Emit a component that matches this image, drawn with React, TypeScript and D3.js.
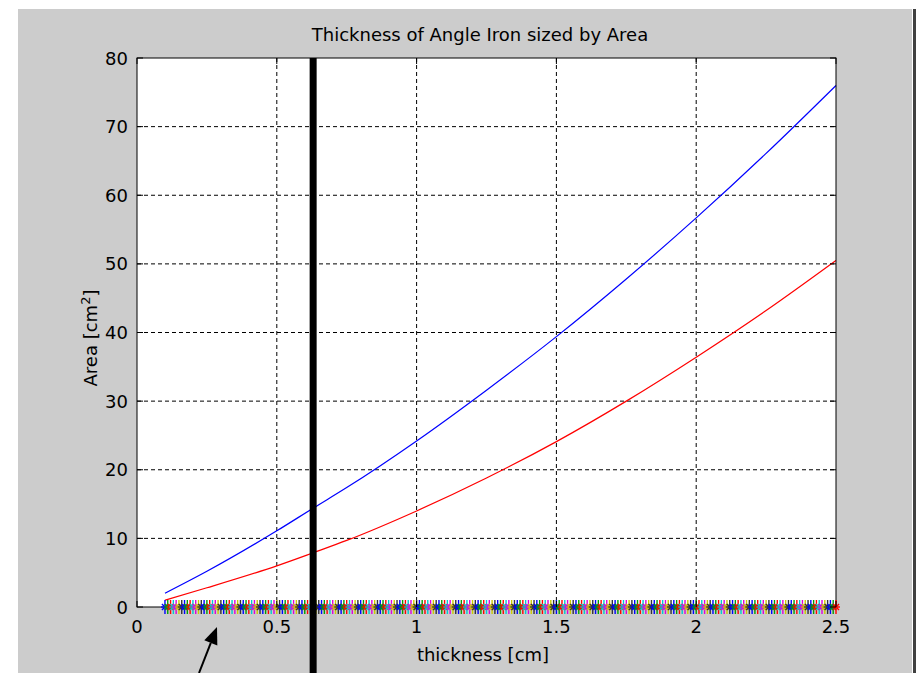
import React from "react";
import * as d3 from "d3";

const title = "Thickness of Angle Iron sized by Area";
const xLabel = "thickness [cm]";
const xTicks = [0, 0.5, 1, 1.5, 2, 2.5];
const yTicks = [0, 10, 20, 30, 40, 50, 60, 70, 80];

const curveThickness = [0.1, 0.25, 0.5, 0.63, 0.75, 1.0, 1.25, 1.5, 1.75, 2.0, 2.25, 2.5];
const blueArea = [2.0, 5.2, 11.1, 14.4, 17.4, 24.2, 31.6, 39.4, 47.8, 56.7, 66.1, 76.0];
const redArea = [1.0, 2.8, 6.0, 7.9, 9.7, 14.0, 18.8, 24.1, 30.0, 36.4, 43.2, 50.5];

// markers along zero: thickness grid 0.1..2.5 step 0.01, all at area 0
const markerThickness = d3.range(10, 251).map((v) => v / 100);
const markerArea = markerThickness.map(() => 0);
const markerColors = ["#0000ff", "#00a000", "#ff0000", "#00cccc", "#dd00dd", "#cccc00", "#333333"];

const selectedThickness = 0.63;

const W = 916;
const H = 673;
const plot = { left: 137, right: 836, top: 58, bottom: 607 };

export default function App() {
  const x = d3.scaleLinear().domain([0, 2.5]).range([plot.left, plot.right]);
  const y = d3.scaleLinear().domain([0, 80]).range([plot.bottom, plot.top]);

  const line = d3
    .line<number>()
    .x((_, i) => x(curveThickness[i]))
    .y((d) => y(d))
    .curve(d3.curveMonotoneX);

  const font = "'DejaVu Sans', Arial, sans-serif";
  const fs = 18;
  const tickLen = 6;
  const r = 4;

  const arrowTip = { x: 217, y: 627 };
  const arrowBase = { x: 199, y: 673 };
  const ang = Math.atan2(arrowTip.y - arrowBase.y, arrowTip.x - arrowBase.x);
  const hl = 17, hw = 7;
  const bx = arrowTip.x - hl * Math.cos(ang);
  const by = arrowTip.y - hl * Math.sin(ang);
  const px = -Math.sin(ang), py = Math.cos(ang);

  return (
    <svg
      width={W}
      height={H}
      style={{ position: "fixed", left: 0, top: 0, display: "block" }}
      fontFamily={font}
    >
      <rect x={0} y={0} width={W} height={H} fill="#ffffff" />
      <rect x={18} y={9} width={894} height={H - 9} fill="#cccccc" />
      <rect x={913} y={9} width={3} height={H - 9} fill="#404040" />

      <rect
        x={plot.left}
        y={plot.top}
        width={plot.right - plot.left}
        height={plot.bottom - plot.top}
        fill="#ffffff"
      />

      {/* grid */}
      {xTicks.slice(1, -1).map((t) => (
        <line
          key={"gx" + t}
          x1={x(t)}
          x2={x(t)}
          y1={plot.top}
          y2={plot.bottom}
          stroke="#000"
          strokeWidth={1}
          strokeDasharray="4,3"
        />
      ))}
      {yTicks.slice(1, -1).map((t) => (
        <line
          key={"gy" + t}
          x1={plot.left}
          x2={plot.right}
          y1={y(t)}
          y2={y(t)}
          stroke="#000"
          strokeWidth={1}
          strokeDasharray="4,3"
        />
      ))}

      {/* curves */}
      <path d={line(blueArea) || ""} fill="none" stroke="#0000ff" strokeWidth={1.2} />
      <path d={line(redArea) || ""} fill="none" stroke="#ff0000" strokeWidth={1.2} />

      {/* axes box */}
      <rect
        x={plot.left}
        y={plot.top}
        width={plot.right - plot.left}
        height={plot.bottom - plot.top}
        fill="none"
        stroke="#000"
        strokeWidth={1}
      />

      {/* markers */}
      {markerThickness.map((t, i) => {
        const cx = x(t);
        const cy = y(markerArea[i]);
        const c = markerColors[i % markerColors.length];
        const d = r * 0.75;
        return (
          <g key={"m" + i} stroke={c} strokeWidth={1.4}>
            <line x1={cx - r} x2={cx + r} y1={cy} y2={cy} />
            <line x1={cx} x2={cx} y1={cy - 7} y2={cy + 7} />
            <line x1={cx - d} x2={cx + d} y1={cy - d} y2={cy + d} />
            <line x1={cx - d} x2={cx + d} y1={cy + d} y2={cy - d} />
          </g>
        );
      })}

      {xTicks.map((t) => (
        <g key={"xt" + t}>
          <line x1={x(t)} x2={x(t)} y1={plot.bottom} y2={plot.bottom - tickLen} stroke="#000" />
          <line x1={x(t)} x2={x(t)} y1={plot.top} y2={plot.top + tickLen} stroke="#000" />
          <text x={x(t)} y={633} textAnchor="middle" fontSize={fs} fill="#000">
            {t}
          </text>
        </g>
      ))}
      {yTicks.map((t) => (
        <g key={"yt" + t}>
          <line x1={plot.left} x2={plot.left + tickLen} y1={y(t)} y2={y(t)} stroke="#000" />
          <line x1={plot.right} x2={plot.right - tickLen} y1={y(t)} y2={y(t)} stroke="#000" />
          <text x={128} y={y(t) + 6.5} textAnchor="end" fontSize={fs} fill="#000">
            {t}
          </text>
        </g>
      ))}

      {/* selected thickness line */}
      <line
        x1={x(selectedThickness)}
        x2={x(selectedThickness)}
        y1={plot.top}
        y2={H}
        stroke="#000"
        strokeWidth={7}
      />

      {/* arrow */}
      <line x1={arrowBase.x} y1={arrowBase.y} x2={bx} y2={by} stroke="#000" strokeWidth={2} />
      <polygon
        points={`${arrowTip.x},${arrowTip.y} ${bx + px * hw},${by + py * hw} ${bx - px * hw},${by - py * hw}`}
        fill="#000"
      />

      {/* labels */}
      <text x={480} y={41} textAnchor="middle" fontSize={fs} fill="#000">
        {title}
      </text>
      <text x={483} y={661} textAnchor="middle" fontSize={fs} fill="#000">
        {xLabel}
      </text>
      <text
        transform={`translate(97, 338) rotate(-90)`}
        textAnchor="middle"
        fontSize={fs}
        fill="#000"
      >
        Area [cm<tspan dy={-7} fontSize={13}>2</tspan>
        <tspan dy={7}>]</tspan>
      </text>
    </svg>
  );
}
